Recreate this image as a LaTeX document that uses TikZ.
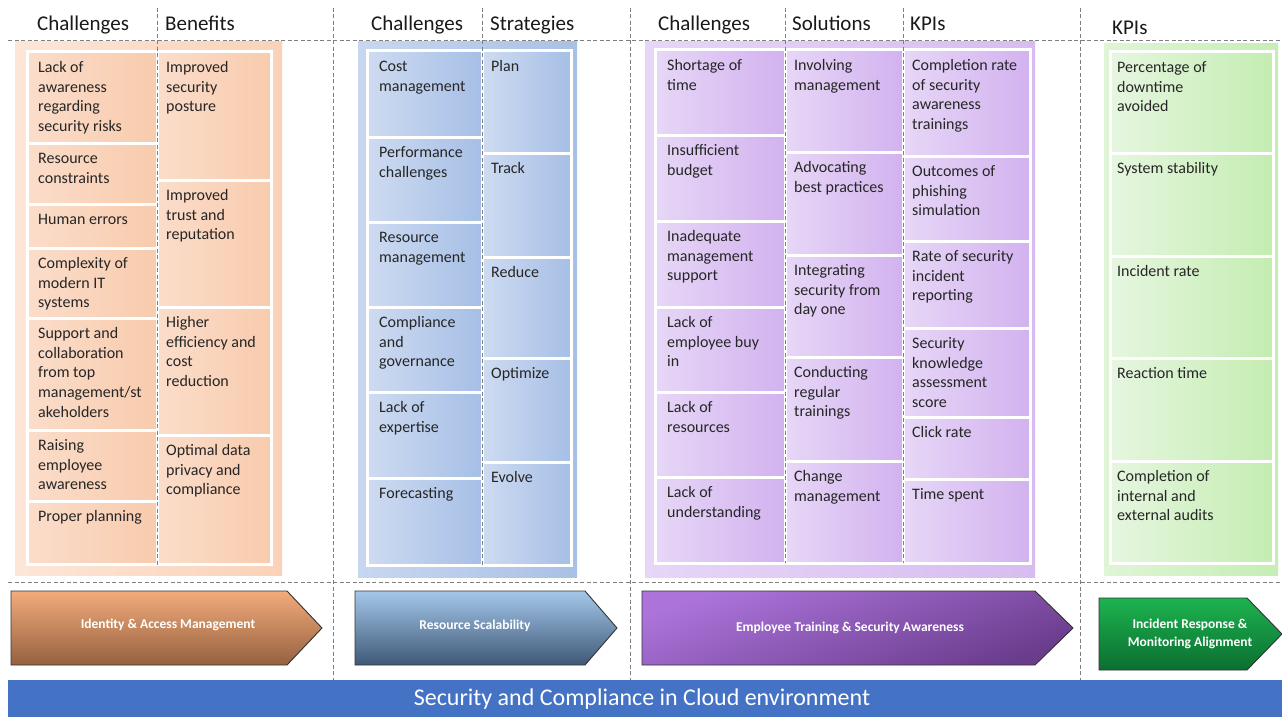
\documentclass[tikz,border=0pt]{standalone}
\usepackage{fontspec}
\setmainfont{Carlito}
\definecolor{txt}{HTML}{262626}
\definecolor{dashc}{HTML}{7F7F7F}
\definecolor{orL}{HTML}{FBDDCA}\definecolor{orR}{HTML}{F8CBAD}
\definecolor{orGL}{HTML}{FDE6D8}\definecolor{orGR}{HTML}{FAD2B8}
\definecolor{blL}{HTML}{CEDBF1}\definecolor{blR}{HTML}{A6BFE6}
\definecolor{blGL}{HTML}{C8D7F0}\definecolor{blGR}{HTML}{A9C0E6}
\definecolor{puL}{HTML}{E7D7F7}\definecolor{puR}{HTML}{D2B2EF}
\definecolor{puGL}{HTML}{E7D6F7}\definecolor{puGR}{HTML}{D8BCF1}
\definecolor{grL}{HTML}{E6F6E0}\definecolor{grR}{HTML}{C4EDB1}
\definecolor{grGL}{HTML}{DFF5D6}\definecolor{grGR}{HTML}{C6EEB4}
\definecolor{arOT}{HTML}{F2AB7B}\definecolor{arOB}{HTML}{96613F}
\definecolor{arBT}{HTML}{A4C8EA}\definecolor{arBB}{HTML}{405878}
\definecolor{arPT}{HTML}{AC74DB}\definecolor{arPB}{HTML}{6A3C8C}
\definecolor{arGT}{HTML}{1DB34F}\definecolor{arGB}{HTML}{0B6E31}
\definecolor{band}{HTML}{4472C4}
\newcommand\mycell[8]{%
  \path[#2] (#3,#4) rectangle (#5,#6);
  \node[celltext] (#1) at (#7,#4+20.5) {\parbox[t]{150pt}{\raggedright #8}};
}
\tikzset{
  cellbox/.style={draw=white, line width=3pt},
  orcell/.style={cellbox, left color=orL, right color=orR},
  blcell/.style={cellbox, left color=blL, right color=blR},
  pucell/.style={cellbox, left color=puL, right color=puR},
  grcell/.style={cellbox, left color=grL, right color=grR},
  celltext/.style={anchor=base west, inner sep=0pt, text=txt, font=\fontsize{16}{19.7}\selectfont},
  headtext/.style={anchor=base west, inner sep=0pt, text=black!90, font=\fontsize{21}{25}\selectfont},
  dline/.style={draw=dashc, line width=0.7pt, dash pattern=on 4pt off 2.5pt},
  arrowshape/.style={draw=black!80, line width=0.9pt},
  arrowtext/.style={text=white, font=\bfseries\fontsize{13.5}{18}\selectfont, align=center, inner sep=0pt},
}
\begin{document}
\begin{tikzpicture}[x=1pt,y=-1pt]
\useasboundingbox (0,0) rectangle (1282,717);
\fill[white] (0,0) rectangle (1282,717);
% glows
\path[left color=orGL, right color=orGR] (15,42) rectangle (282,575);
\path[left color=blGL, right color=blGR] (358,42) rectangle (577,577);
\path[left color=puGL, right color=puGR] (645,42) rectangle (1035,577);
\path[left color=grGL, right color=grGR] (1104,44) rectangle (1278,575);
% column 1
\mycell{c1a}{orcell}{27}{52}{157}{143}{38}{Lack of\\awareness\\regarding\\security risks}
\mycell{c1b}{orcell}{27}{143}{157}{204}{38}{Resource\\constraints}
\mycell{c1c}{orcell}{27}{204}{157}{248}{38}{Human errors}
\mycell{c1d}{orcell}{27}{248}{157}{318}{38}{Complexity of\\modern IT\\systems}
\mycell{c1e}{orcell}{27}{318}{157}{430}{38}{Support and\\collaboration\\from top\\management/st\\akeholders}
\mycell{c1f}{orcell}{27}{430}{157}{501}{38}{Raising\\employee\\awareness}
\mycell{c1g}{orcell}{27}{501}{157}{564}{38}{Proper planning}
\mycell{b1a}{orcell}{157}{52}{271}{180}{166}{Improved\\security\\posture}
\mycell{b1b}{orcell}{157}{180}{271}{307}{166}{Improved\\trust and\\reputation}
\mycell{b1c}{orcell}{157}{307}{271}{435}{166}{Higher\\efficiency and\\cost\\reduction}
\mycell{b1d}{orcell}{157}{435}{271}{564}{166}{Optimal data\\privacy and\\compliance}
% column 2
\mycell{c2a}{blcell}{367}{51}{482}{137}{379}{Cost\\management}
\mycell{c2b}{blcell}{367}{137}{482}{222}{379}{Performance\\challenges}
\mycell{c2c}{blcell}{367}{222}{482}{307}{379}{Resource\\management}
\mycell{c2d}{blcell}{367}{307}{482}{392}{379}{Compliance\\and\\governance}
\mycell{c2e}{blcell}{367}{392}{482}{478}{379}{Lack of\\expertise}
\mycell{c2f}{blcell}{367}{478}{482}{565}{379}{Forecasting}
\mycell{s2a}{blcell}{482}{51}{571}{153}{491}{Plan}
\mycell{s2b}{blcell}{482}{153}{571}{257}{491}{Track}
\mycell{s2c}{blcell}{482}{257}{571}{358}{491}{Reduce}
\mycell{s2d}{blcell}{482}{358}{571}{462}{491}{Optimize}
\mycell{s2e}{blcell}{482}{462}{571}{565}{491}{Evolve}
% column 3
\mycell{c3a}{pucell}{655}{50}{785}{135}{667}{Shortage of\\time}
\mycell{c3b}{pucell}{655}{135}{785}{221}{667}{Insufficient\\budget}
\mycell{c3c}{pucell}{655}{221}{785}{307}{667}{Inadequate\\management\\support}
\mycell{c3d}{pucell}{655}{307}{785}{392}{667}{Lack of\\employee buy\\in}
\mycell{c3e}{pucell}{655}{392}{785}{477}{667}{Lack of\\resources}
\mycell{c3f}{pucell}{655}{477}{785}{563}{667}{Lack of\\understanding}
\mycell{s3a}{pucell}{785}{50}{903}{152}{794}{Involving\\management}
\mycell{s3b}{pucell}{785}{152}{903}{255}{794}{Advocating\\best practices}
\mycell{s3c}{pucell}{785}{255}{903}{357}{794}{Integrating\\security from\\day one}
\mycell{s3d}{pucell}{785}{357}{903}{461}{794}{Conducting\\regular\\trainings}
\mycell{s3e}{pucell}{785}{461}{903}{563}{794}{Change\\management}
\mycell{k3a}{pucell}{903}{50}{1030}{156}{912}{Completion rate\\of security\\awareness\\trainings}
\mycell{k3b}{pucell}{903}{156}{1030}{241}{912}{Outcomes of\\phishing\\simulation}
\mycell{k3c}{pucell}{903}{241}{1030}{328}{912}{Rate of security\\incident\\reporting}
\mycell{k3d}{pucell}{903}{328}{1030}{417}{912}{Security\\knowledge\\assessment\\score}
\mycell{k3e}{pucell}{903}{417}{1030}{479}{912}{Click rate}
\mycell{k3f}{pucell}{903}{479}{1030}{563}{912}{Time spent}
% column 4
\mycell{k4a}{grcell}{1110}{52}{1273}{153}{1117}{Percentage of\\downtime\\avoided}
\mycell{k4b}{grcell}{1110}{153}{1273}{256}{1117}{System stability}
\mycell{k4c}{grcell}{1110}{256}{1273}{358}{1117}{Incident rate}
\mycell{k4d}{grcell}{1110}{358}{1273}{461}{1117}{Reaction time}
\mycell{k4e}{grcell}{1110}{461}{1273}{563}{1117}{Completion of\\internal and\\external audits}
% dashed grid
\draw[dline] (8,40) -- (1282,40);
\draw[dline] (8,582) -- (1282,582);
\draw[dline] (157,8) -- (157,565);
\draw[dline] (333,8) -- (333,680);
\draw[dline] (482,8) -- (482,565);
\draw[dline] (630,8) -- (630,680);
\draw[dline] (785,8) -- (785,563);
\draw[dline] (903,8) -- (903,563);
\draw[dline] (1080,8) -- (1080,680);
% headers
\node[headtext] (h1a) at (37,31) {Challenges};
\node[headtext] (h1b) at (165,31) {Benefits};
\node[headtext] (h2a) at (371,31) {Challenges};
\node[headtext] (h2b) at (490,31) {Strategies};
\node[headtext] (h3a) at (658,31) {Challenges};
\node[headtext] (h3b) at (792,31) {Solutions};
\node[headtext] (h3c) at (910,31) {KPIs};
\node[headtext] (h4a) at (1112,35) {KPIs};
% arrows
\path[arrowshape, top color=arOT, bottom color=arOB] (11,591) -- (287,591) -- (322,628) -- (287,665) -- (11,665) -- cycle;
\node[arrowtext] (a1) at (168,625) {Identity \& Access Management};
\path[arrowshape, top color=arBT, bottom color=arBB] (355,591) -- (585,591) -- (617,628) -- (585,665) -- (355,665) -- cycle;
\node[arrowtext] (a2) at (475,626) {Resource Scalability};
\path[arrowshape, top color=arPT, bottom color=arPB, shading angle=20] (642,591) -- (1035,591) -- (1073,628) -- (1035,665) -- (642,665) -- cycle;
\node[arrowtext] (a3) at (850,628) {Employee Training \& Security Awareness};
\path[arrowshape, top color=arGT, bottom color=arGB] (1099,598) -- (1247,598) -- (1282,634) -- (1247,670) -- (1099,670) -- cycle;
\node[arrowtext] (a4) at (1190,634) {Incident Response \&\\Monitoring Alignment};
% band
\fill[band] (8,680) rectangle (1282,717);
\node[text=white, font=\fontsize{24}{28}\selectfont, inner sep=0pt] (title) at (642,699) {Security and Compliance in Cloud environment};
\end{tikzpicture}
\end{document}
